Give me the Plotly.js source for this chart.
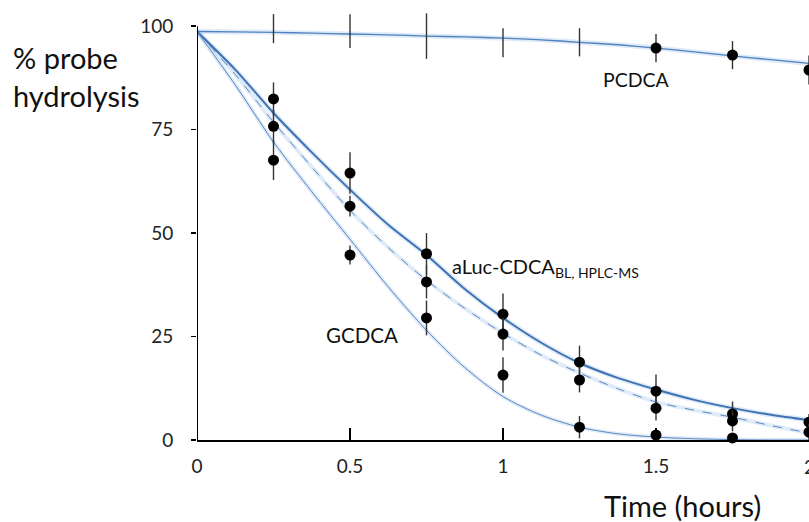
<!DOCTYPE html>
<html><head><meta charset="utf-8">
<script src="https://cdn.plot.ly/plotly-3.0.1.min.js"></script>
<style>html,body{margin:0;padding:0;background:#fff}#chart{width:809px;height:522px}</style>
</head><body><div id="chart"></div>
<script>
// Fitted curves
const fitT      = [0, 0.125, 0.25, 0.375, 0.5, 0.625, 0.75, 0.875, 1, 1.125, 1.25, 1.375, 1.5, 1.625, 1.75, 1.875, 2];
const fitALuc   = [98.7, 89.5, 79, 69.5, 60.5, 52, 44.7, 36.5, 29.5, 23.5, 18.6, 15, 12.2, 9.7, 7.7, 6.1, 4.8];
const fitMid    = [98.7, 88.3, 76.8, 66, 55.5, 46.5, 38.6, 31.8, 25.8, 20.5, 16.2, 12.4, 9.2, 7.2, 5.5, 3.5, 1.7];
const fitGCDCA  = [98.7, 85.8, 72, 60, 48.5, 37, 26.5, 17.5, 10.5, 6, 3.1, 1.5, 0.7, 0.3, 0.1, 0, 0];
const fitPCDCA  = [98.7, 98.6, 98.5, 98.3, 98.1, 97.9, 97.6, 97.4, 97.1, 96.7, 96.1, 95.5, 94.7, 93.8, 92.8, 91.9, 91];

// Observations
const timeObs   = [0.25, 0.5, 0.75, 1, 1.25, 1.5, 1.75, 2];
const aLucHigh  = [82.4, 64.5, 45, 30.4, 18.8, 11.8, 6.3, 4.3];
const aLucHighErr = [4, 5, 5, 5, 4, 4, 3, 2];
const aLucMid   = [75.8, 56.5, 38.2, 25.6, 14.5, 7.7, 4.6, 1.9];
const aLucMidErr = [4, 2.5, 4, 4, 3, 3, 2.5, 2];
const gcdcaT    = [0.25, 0.5, 0.75, 1, 1.25, 1.5, 1.75];
const gcdcaObs  = [67.6, 44.7, 29.5, 15.7, 3.1, 1.2, 0.5];
const gcdcaErr  = [4.8, 2.3, 4.2, 4.3, 2.7, 1.2, 0.8];
const pcdcaBarT = [0.25, 0.5, 0.75, 1, 1.25];
const pcdcaBarY = [99.4, 98.8, 97.6, 96, 96.1];
const pcdcaBarErr = [3.5, 4.1, 5.5, 3.5, 3.4];
const pcdcaT    = [1.5, 1.75, 2];
const pcdcaObs  = [94.7, 93, 89.4];
const pcdcaErr  = [3.4, 3.4, 3.5];

const yTicks = [0, 25, 50, 75, 100];
const xTicks = [0, 0.5, 1, 1.5, 2];
const xTickText = ['0', '0.5', '1', '1.5', ''];
const lastTickText = '2';

const FONT = 'Lato, "Open Sans", sans-serif';
const glow = 'rgba(175,205,238,0.4)';

function fitTrace(y, color, width, dash){
  return {x: fitT, y: y, mode: 'lines', line: {color: color, width: width, dash: dash || 'solid', shape: 'spline', smoothing: 0.8}, hoverinfo: 'skip', showlegend: false};
}
function obsTrace(x, y, err, showMarker){
  return {x: x, y: y, mode: 'markers', cliponaxis: false,
    marker: {color: '#000', size: 11, opacity: showMarker ? 1 : 0},
    error_y: {type: 'data', array: err, visible: true, color: '#333', thickness: 1.4, width: 0},
    showlegend: false};
}

const data = [
  fitTrace(fitPCDCA, glow, 5),
  fitTrace(fitALuc, glow, 5),
  fitTrace(fitMid, glow, 4),
  fitTrace(fitGCDCA, glow, 4),
  fitTrace(fitPCDCA, '#4f81bd', 1.3),
  fitTrace(fitALuc, '#3f72b2', 2),
  fitTrace(fitMid, '#5b87c0', 1, 'dash'),
  fitTrace(fitGCDCA, '#5b87c0', 1),
  obsTrace(pcdcaBarT, pcdcaBarY, pcdcaBarErr, false),
  obsTrace(pcdcaT, pcdcaObs, pcdcaErr, true),
  obsTrace(timeObs, aLucHigh, aLucHighErr, true),
  obsTrace(timeObs, aLucMid, aLucMidErr, true),
  obsTrace(gcdcaT, gcdcaObs, gcdcaErr, true)
];

const layout = {
  width: 809, height: 522,
  margin: {l: 197, r: 0, t: 10, b: 82},
  paper_bgcolor: '#fff', plot_bgcolor: '#fff',
  font: {family: FONT, color: '#111'},
  showlegend: false,
  xaxis: {range: [0, 2], tickvals: xTicks, ticktext: xTickText, showgrid: false, zeroline: false,
    showline: true, linecolor: '#000', linewidth: 2, ticks: 'inside', ticklen: 12, tickwidth: 1.5, tickcolor: '#000',
    tickfont: {size: 19, family: FONT, color: '#222'}, ticklabelstandoff: 8},
  yaxis: {range: [0, 103.9], tickvals: yTicks, showgrid: false, zeroline: false, showline: false,
    ticks: 'outside', ticklen: 5, tickwidth: 1.5, tickcolor: '#000',
    tickfont: {size: 19, family: FONT, color: '#222'}, ticklabelstandoff: 14},
  shapes: [
    {type: 'line', xref: 'x', yref: 'y', x0: 0, x1: 0, y0: 0, y1: 100, line: {color: '#000', width: 2}}
  ],
  annotations: [
    {xref: 'x', yref: 'y', x: xTicks[4], y: 0, xanchor: 'center', yanchor: 'middle', yshift: -26, showarrow: false,
      text: lastTickText, font: {size: 19, family: FONT, color: '#222'}},
    {xref: 'paper', yref: 'paper', x: -0.304, y: 0.845, xanchor: 'left', yanchor: 'middle', align: 'left', showarrow: false,
      text: '% probe<br>hydrolysis', font: {size: 29, family: FONT, color: '#111'}},
    {xref: 'paper', yref: 'paper', x: 0.794, y: -0.152, xanchor: 'center', yanchor: 'middle', showarrow: false,
      text: 'Time (hours)', font: {size: 29, family: FONT, color: '#111'}},
    {xref: 'x', yref: 'y', x: 1.435, y: 87.1, xanchor: 'center', yanchor: 'middle', showarrow: false,
      text: 'PCDCA', font: {size: 19.5, family: FONT, color: '#111'}},
    {xref: 'x', yref: 'y', x: 0.827, y: 41.8, xanchor: 'left', yanchor: 'middle', showarrow: false,
      text: 'aLuc-CDCA<sub>BL, HPLC-MS</sub>', font: {size: 20, family: FONT, color: '#111'}},
    {xref: 'x', yref: 'y', x: 0.54, y: 25.4, xanchor: 'center', yanchor: 'middle', showarrow: false,
      text: 'GCDCA', font: {size: 20.5, family: FONT, color: '#111'}}
  ]
};

Plotly.newPlot('chart', data, layout, {staticPlot: true, displayModeBar: false});
</script>
</body></html>
